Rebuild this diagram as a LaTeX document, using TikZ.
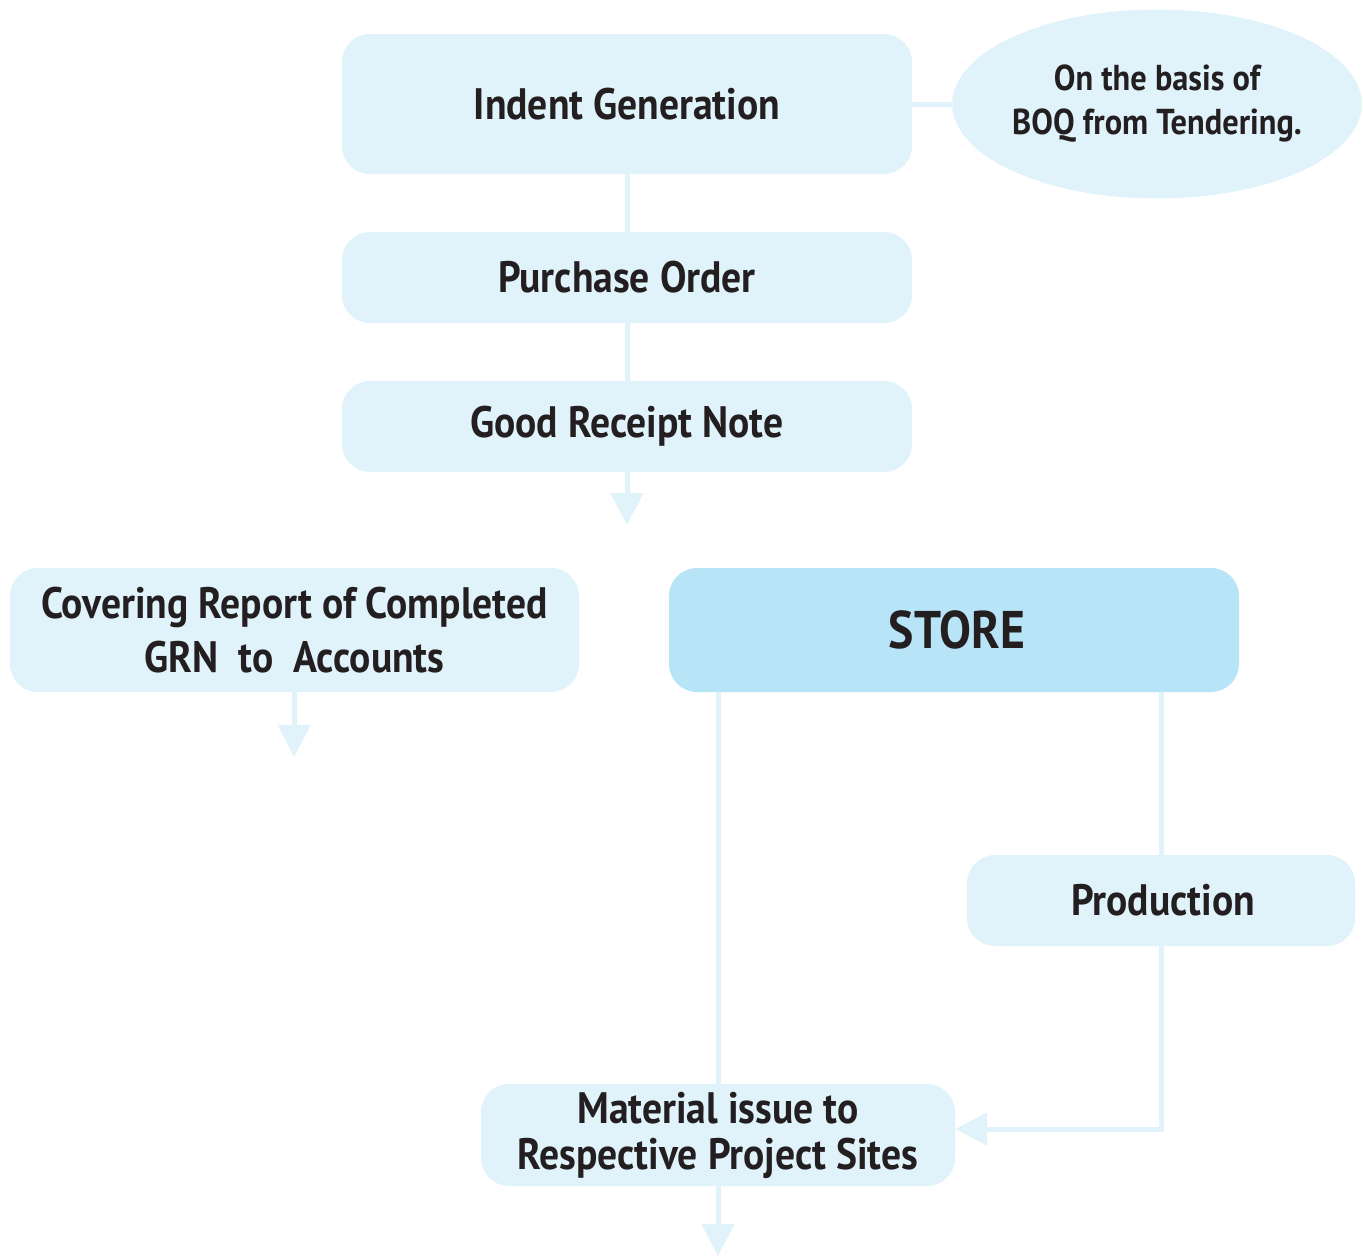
\documentclass[tikz,border=0pt]{standalone}
\usepackage{fontspec}
\newfontfamily\lblfont{PT Sans}[FakeStretch=0.90]
\usetikzlibrary{arrows.meta,shapes.geometric}
\definecolor{boxfill}{HTML}{E0F2FA}
\definecolor{storefill}{HTML}{B8E4F8}
\definecolor{txt}{HTML}{231F20}
\tikzset{
  box/.style={fill=boxfill, draw=none, rounded corners=28pt, align=center, text=txt, font=\lblfont\bfseries\fontsize{44}{54}\selectfont, inner sep=0pt},
  conn/.style={draw=boxfill, line width=5pt},
  arr/.style={conn, -{Triangle[width=32pt,length=32pt]}},
}
\begin{document}
\begin{tikzpicture}[x=1pt,y=-1pt]
\useasboundingbox (0,0) rectangle (1363,1256);
\node[box, minimum width=570, minimum height=140] (ind) at (627,104) {Indent Generation};
\node[ellipse, fill=boxfill, minimum width=397, minimum height=189, inner sep=0pt, align=center, text=txt, font=\lblfont\bfseries\fontsize{36}{44}\selectfont] (ell) at (1157,104) {On the basis of\\BOQ from Tendering.};
\node[box, minimum width=570, minimum height=91] (po) at (627,277.5) {Purchase Order};
\node[box, minimum width=570, minimum height=91] (grn) at (627,426.5) {Good Receipt Note};
\node[box, minimum width=569, minimum height=124, font=\lblfont\bfseries\fontsize{44}{54}\selectfont] (cov) at (294.5,630) {Covering Report of Completed\\GRN\ \ to\ \ Accounts};
\node[box, fill=storefill, minimum width=570, minimum height=124, font=\lblfont\bfseries\fontsize{53}{64}\selectfont] (store) at (954,630) {\hspace*{6pt}STORE};
\node[box, minimum width=388, minimum height=91] (prod) at (1161,900.5) {\hspace*{4pt}Production};
\node[box, minimum width=474, minimum height=102, font=\lblfont\bfseries\fontsize{44}{46}\selectfont] (mat) at (718,1135) {Material issue to\\Respective Project Sites};
\coordinate (gend) at (627,525);
\coordinate (cend) at (294,757);
\coordinate (mend) at (718,1256);
\draw[conn] (ind.east) -- (ell.west);
\draw[conn] (ind.south) -- (po.north);
\draw[conn] (po.south) -- (grn.north);
\draw[arr] (grn.south) -- (gend);
\draw[arr] (cov.south) -- (cend);
\draw[conn] (store.south -| mat.north) -- (mat.north);
\draw[conn] (store.south -| prod.north) -- (prod.north);
\draw[arr] (prod.south) |- ([yshift=6pt]mat.east);
\draw[arr] (mat.south) -- (mend);
\end{tikzpicture}
\end{document}
